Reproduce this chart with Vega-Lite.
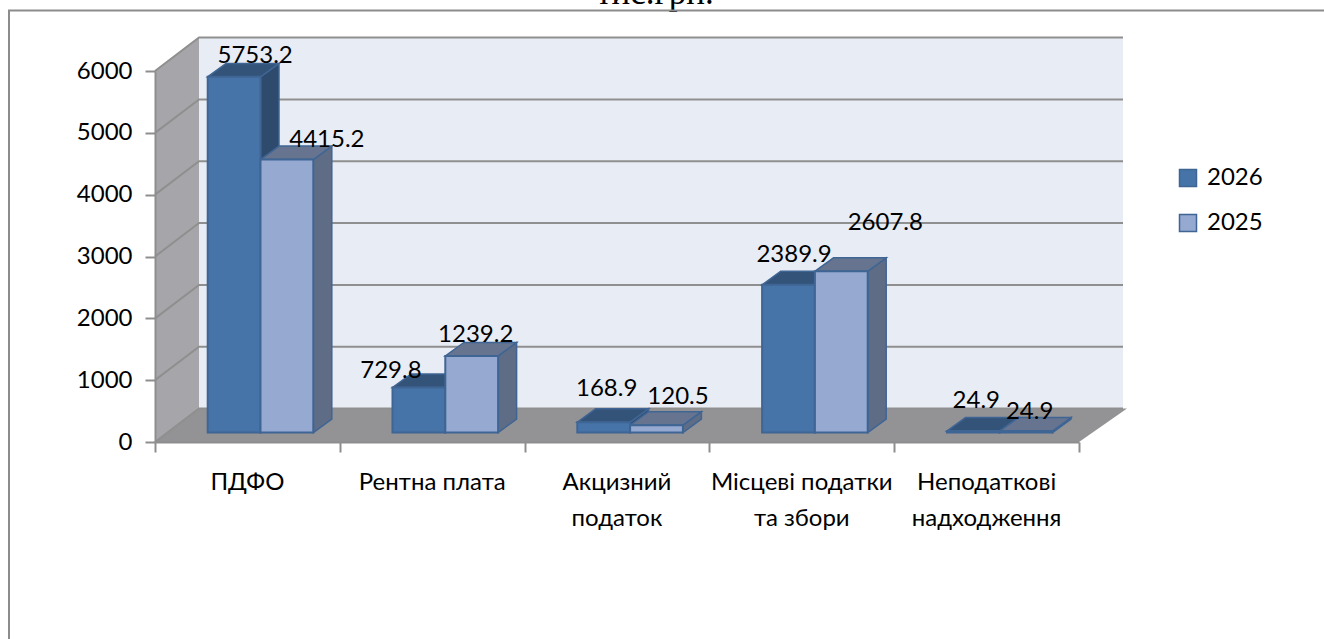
{
"$schema":"https://vega.github.io/schema/vega-lite/v6.json",
"autosize":"none","width":924,"height":371,
"padding":{"left":155,"top":71,"right":245,"bottom":197},
"background":"#ffffff",
"config":{"view":{"stroke":null},"text":{"font":"Lato"}},
"datasets":{
"bars":[
{"category":"ПДФО","series":"2026","value":5753.2},
{"category":"ПДФО","series":"2025","value":4415.2},
{"category":"Рентна плата","series":"2026","value":729.8},
{"category":"Рентна плата","series":"2025","value":1239.2},
{"category":"Акцизний\nподаток","series":"2026","value":168.9},
{"category":"Акцизний\nподаток","series":"2025","value":120.5},
{"category":"Місцеві податки\nта збори","series":"2026","value":2389.9},
{"category":"Місцеві податки\nта збори","series":"2025","value":2607.8},
{"category":"Неподаткові\nнадходження","series":"2026","value":24.9},
{"category":"Неподаткові\nнадходження","series":"2025","value":24.9}
],
"cats":[{"category":"ПДФО","i":0},{"category":"Рентна плата","i":1},{"category":"Акцизний\nподаток","i":2},{"category":"Місцеві податки\nта збори","i":3},{"category":"Неподаткові\nнадходження","i":4}],
"grid":[{"v":0},{"v":1000},{"v":2000},{"v":3000},{"v":4000},{"v":5000},{"v":6000}]
},
"encoding":{
"x":{"field":"x","type":"quantitative","title":null,"scale":{"domain":[0,924],"nice":false,"zero":false},
"axis":{"values":[0,184.8,369.6,554.4,739.2,924],"labels":false,"grid":false,"tickSize":10,"tickColor":"#8e8e8e","tickWidth":2,"domainColor":"#8e8e8e","domainWidth":2,"title":null,"zindex":1}},
"y":{"field":"y","type":"quantitative","title":null,"scale":{"domain":[0,6000],"nice":false,"zero":false},
"axis":{"values":[0,1000,2000,3000,4000,5000,6000],"grid":false,"tickSize":10,"tickColor":"#8e8e8e","tickWidth":2,"domainColor":"#8e8e8e","domainWidth":2,"labelFont":"Lato","labelFontSize":24,"labelColor":"#000000","labelPadding":13,"title":null,"format":"d","zindex":1}}
},
"layer":[
{"data":{"values":[{"x":500,"y":7086,"label":"тис.грн."}]},
 "mark":{"type":"text","font":"Liberation Serif","fontSize":35,"color":"#000000","align":"center","baseline":"alphabetic"},
 "encoding":{"text":{"field":"label","type":"nominal"}}},
{"data":{"values":[{"x":-146,"y":-3200,"o":0},{"x":-146,"y":6978,"o":1},{"x":1200,"y":6978,"o":2}]},
 "mark":{"type":"line","color":"#8c8c8c","strokeWidth":2},"encoding":{"order":{"field":"o"}}},
{"data":{"values":[{"x":0,"y":0,"y2":6000},{"x":44,"y":541,"y2":6541}]},
 "mark":{"type":"area","color":"#a6a6aa"},"encoding":{"y2":{"field":"y2"}}},
{"data":{"values":[{"x":44,"x2":968,"y":541,"y2":6541}]},
 "mark":{"type":"rect","color":"#e8ecf4"},"encoding":{"x2":{"field":"x2"},"y2":{"field":"y2"}}},
{"data":{"values":[{"x":0,"x2":924,"y":0},{"x":44,"x2":972,"y":541}]},
 "mark":{"type":"area","orient":"horizontal","color":"#939396"},"encoding":{"x2":{"field":"x2"}}},
{"data":{"name":"grid"},
 "transform":[{"calculate":"[0,44,968]","as":"x"},{"flatten":["x"]},{"calculate":"datum.x==0?datum.v:datum.v+541","as":"y"}],
 "mark":{"type":"line","color":"#8f8f8f","strokeWidth":2},"encoding":{"detail":{"field":"v"}}},
{"data":{"name":"bars"},
 "transform":[
  {"calculate":"indexof(['ПДФО','Рентна плата','Акцизний\\nподаток','Місцеві податки\\nта збори','Неподаткові\\nнадходження'],datum.category)","as":"i"},
  {"calculate":"datum.i*184.8+52.7+(datum.series=='2025'?52.8:0)+52.8","as":"right"},
  {"calculate":"[0,1]","as":"d"},{"flatten":["d"]},
  {"calculate":"datum.right+datum.d*18.5","as":"x"},
  {"calculate":"152+datum.d*218","as":"y"},
  {"calculate":"152+datum.value+datum.d*218","as":"y2"}],
 "mark":{"type":"area","stroke":"#3f6594","strokeWidth":1.5},
 "encoding":{"y2":{"field":"y2"},"detail":[{"field":"category"},{"field":"series"}],
  "fill":{"condition":{"test":"datum.series=='2026'","value":"#2e4b6d"},"value":"#5f6c86"}}},
{"data":{"name":"bars"},
 "transform":[
  {"calculate":"indexof(['ПДФО','Рентна плата','Акцизний\\nподаток','Місцеві податки\\nта збори','Неподаткові\\nнадходження'],datum.category)","as":"i"},
  {"calculate":"datum.i*184.8+52.7+(datum.series=='2025'?52.8:0)","as":"left"},
  {"calculate":"[0,1]","as":"d"},{"flatten":["d"]},
  {"calculate":"datum.left+datum.d*18.5","as":"x"},
  {"calculate":"datum.left+52.8+datum.d*18.5","as":"x2"},
  {"calculate":"152+datum.value+datum.d*218","as":"y"}],
 "mark":{"type":"area","orient":"horizontal","stroke":"#3f6594","strokeWidth":1.5},
 "encoding":{"x2":{"field":"x2"},"detail":[{"field":"category"},{"field":"series"}],
  "fill":{"condition":{"test":"datum.series=='2026'","value":"#345379"},"value":"#667490"}}},
{"data":{"name":"bars"},
 "transform":[
  {"calculate":"indexof(['ПДФО','Рентна плата','Акцизний\\nподаток','Місцеві податки\\nта збори','Неподаткові\\nнадходження'],datum.category)","as":"i"},
  {"calculate":"datum.i*184.8+52.7+(datum.series=='2025'?52.8:0)","as":"x"},
  {"calculate":"datum.x+52.8","as":"x2"},
  {"calculate":"152","as":"y"},
  {"calculate":"152+datum.value","as":"y2"}],
 "mark":{"type":"rect","stroke":"#3f6594","strokeWidth":2},
 "encoding":{"x2":{"field":"x2"},"y2":{"field":"y2"},
  "fill":{"field":"series","type":"nominal","title":null,
   "scale":{"domain":["2026","2025"],"range":["#4674a8","#96a9d0"]},
   "legend":{"orient":"none","legendX":1021,"legendY":95,"symbolType":"square","symbolSize":289,"symbolStrokeColor":"#3f6594","symbolStrokeWidth":1.5,"labelFont":"Lato","labelFontSize":24,"labelColor":"#000000","labelOffset":7,"rowPadding":21,"title":null}}}},
{"data":{"name":"bars"},
 "transform":[
  {"calculate":"indexof(['ПДФО','Рентна плата','Акцизний\\nподаток','Місцеві податки\\nта збори','Неподаткові\\nнадходження'],datum.category)","as":"i"},
  {"calculate":"datum.i*2+(datum.series=='2025'?1:0)","as":"k"},
  {"calculate":"datum.i*184.8+52.7+26.4+(datum.series=='2025'?52.8:0)+[21,40,-28,4,3,21.5,5.5,44,3,3.5][datum.k]","as":"x"},
  {"calculate":"152+datum.value+16.16*[21,20,16,20.6,33,28,30,48,30,19][datum.k]","as":"y"}],
 "mark":{"type":"text","font":"Lato","fontSize":24,"color":"#000000","align":"center","baseline":"middle"},
 "encoding":{"text":{"field":"value","type":"quantitative","format":".1f"}}},
{"data":{"name":"cats"},
 "transform":[
  {"calculate":"(datum.i+0.5)*184.8","as":"x"},
  {"calculate":"-670","as":"y"}],
 "mark":{"type":"text","font":"Lato","fontSize":24,"color":"#000000","align":"center","baseline":"middle","lineBreak":"\n","lineHeight":36},
 "encoding":{"text":{"field":"category","type":"nominal"}}}
]
}
